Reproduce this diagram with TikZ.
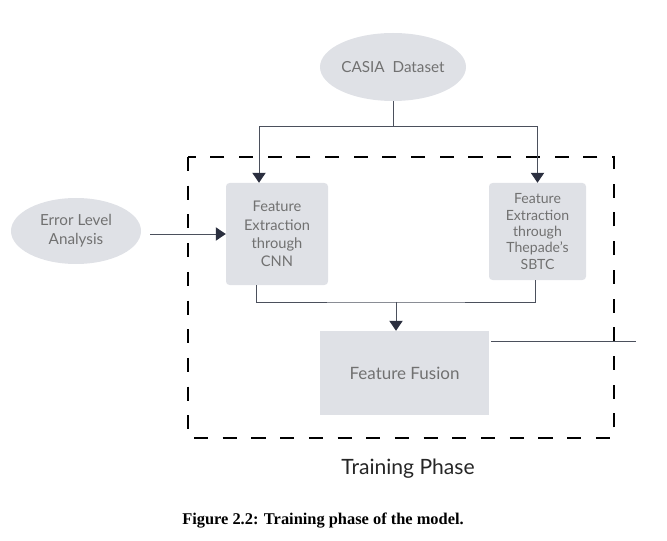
\documentclass[tikz,border=0pt]{standalone}
\usepackage{fontspec}
\setmainfont{Lato}
\newfontfamily\capfont{Liberation Serif}
\usetikzlibrary{arrows.meta,shapes.geometric}
\definecolor{boxgray}{HTML}{DFE1E6}
\definecolor{txtgray}{HTML}{717171}
\definecolor{linegray}{HTML}{4B505C}
\definecolor{tipnavy}{HTML}{2B2F3F}
\begin{document}
\begin{tikzpicture}[x=0.03cm,y=-0.03cm,
  blob/.style={ellipse,fill=boxgray,text=txtgray,inner sep=0pt},
  stage/.style={rectangle,fill=boxgray,text=txtgray,align=center,inner sep=0pt,rounded corners=3pt},
  link/.style={draw=linegray,line width=0.8pt},
  arr/.style={link,-{Triangle[width=0.4cm,length=0.3cm,fill=tipnavy,color=tipnavy]}}]
\useasboundingbox (0,0) rectangle (667,541);
% inputs
\node[blob,minimum width=4.38cm,minimum height=2.04cm,font=\fontsize{13}{16}\selectfont] (casia) at (393,67) {\makebox[0pt]{CASIA\ \ Dataset}};
\node[blob,minimum width=3.9cm,minimum height=1.98cm,font=\fontsize{13}{16}\selectfont] (ela) at (76,231) {\makebox[0pt]{\begin{tabular}{@{}c@{}}Error Level\\Analysis\end{tabular}}};

% training phase frame
\draw[line width=2.4pt,dash pattern=on 12pt off 12.5pt] (188,157) rectangle (614,438);
\node[font=\fontsize{18}{21}\selectfont,text=black!85] (phase) at (408,469) {Training Phase};

% feature extractors
\node[stage,minimum width=3.06cm,minimum height=3.06cm,font=\fontsize{12.5}{15.5}\selectfont] (cnn) at (277,234) {Feature\\Extraction\\through\\CNN};
\node[stage,minimum width=2.91cm,minimum height=2.91cm,font=\fontsize{12}{14}\selectfont] (sbtc) at (537.5,231.5) {Feature\\Extraction\\through\\Thepade's\\SBTC};
\node[stage,rounded corners=0pt,minimum width=5.07cm,minimum height=2.52cm,font=\fontsize{14.5}{17}\selectfont] (fusion) at (404.5,373) {Feature Fusion};

% connectors
\coordinate (split) at (393,126);
\coordinate (merge) at (396,302);
\coordinate (fout) at (636,341);
\draw[link] (casia.south) -- (split);
\draw[arr] (split) -| ([xshift=-0.54cm]cnn.north);
\draw[arr] (split) -| (sbtc.north);
\draw[arr] ([xshift=0.27cm]ela.east |- cnn.west) -- (cnn.west);
\draw[link] ([xshift=-0.63cm]cnn.south) |- (merge) -| ([xshift=-0.075cm]sbtc.south);
\draw[arr] (merge) -- (merge |- fusion.north);
\draw[link] ([xshift=0.06cm]fusion.east |- fout) -- (fout);

% caption
\node[font=\capfont\bfseries\fontsize{14}{16}\selectfont] (caption) at (323,521) {Figure 2.2: Training phase of the model.};
\end{tikzpicture}
\end{document}
